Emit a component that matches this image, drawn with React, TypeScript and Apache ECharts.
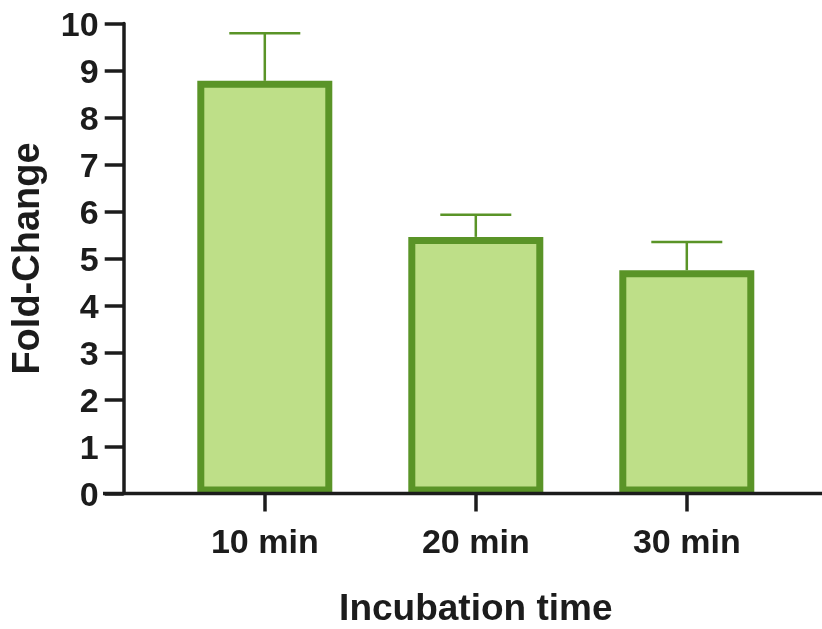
import React, { useEffect, useRef } from "react";
import * as echarts from "echarts";

const categories = ["10 min", "20 min", "30 min"];
const means = [8.78, 5.46, 4.75];
const errors = [1.01, 0.47, 0.6];
const yTicks = [0, 1, 2, 3, 4, 5, 6, 7, 8, 9, 10];

const FONT = '"Liberation Sans", Arial, Helvetica, sans-serif';
const INK = "#1c1c1c";
const GREEN = "#5a9427";
const FILL = "#bedf88";

export default function App() {
  const ref = useRef<HTMLDivElement>(null);
  useEffect(() => {
    if (!ref.current) return;
    const chart = echarts.init(ref.current, undefined, { renderer: "svg" });
    const errData = categories.map((c, i) => [i, means[i], means[i] + errors[i]]);
    chart.setOption({
      animation: false,
      grid: {
        left: 159.3,
        right: 29.7,
        top: 23.5,
        bottom: 135.5,
        containLabel: false,
        outerBoundsMode: "none",
      },
      xAxis: {
        type: "category",
        data: categories,
        axisLine: { show: false },
        axisTick: { show: true, alignWithLabel: true, length: 18, lineStyle: { color: INK, width: 3.5 } },
        axisLabel: { margin: 30, fontSize: 34, fontWeight: "bold", color: INK, fontFamily: FONT },
        name: "Incubation time",
        nameLocation: "middle",
        nameGap: 95,
        nameTextStyle: { fontSize: 37, fontWeight: "bold", color: INK, fontFamily: FONT },
        splitLine: { show: false },
      },
      yAxis: {
        type: "value",
        min: yTicks[0],
        max: yTicks[yTicks.length - 1],
        interval: 1,
        offset: 35.6,
        axisLine: { show: true, lineStyle: { color: INK, width: 3.5 } },
        axisTick: { show: true, length: 19, lineStyle: { color: INK, width: 3.5 } },
        axisLabel: { margin: 25, fontSize: 34, fontWeight: "bold", color: INK, fontFamily: FONT },
        splitLine: { show: false },
        name: "Fold-Change",
        nameLocation: "middle",
        nameRotate: 90,
        nameGap: 79,
        nameTextStyle: { fontSize: 38, fontWeight: "bold", color: INK, fontFamily: FONT },
      },
      graphic: [
        {
          type: "line",
          shape: { x1: 103, y1: 493.5, x2: 822, y2: 493.5 },
          style: { stroke: INK, lineWidth: 3.5 },
          z: 10,
        },
      ],
      series: [
        {
          type: "custom",
          z: 1,
          data: errData,
          renderItem: (params: any, api: any) => {
            const x = api.value(0);
            const base = api.coord([x, api.value(1)]);
            const top = api.coord([x, api.value(2)]);
            const half = 35.5;
            return {
              type: "group",
              children: [
                {
                  type: "line",
                  shape: { x1: base[0], y1: base[1], x2: top[0], y2: top[1] },
                  style: { stroke: GREEN, lineWidth: 2.5 },
                },
                {
                  type: "line",
                  shape: { x1: top[0] - half, y1: top[1], x2: top[0] + half, y2: top[1] },
                  style: { stroke: GREEN, lineWidth: 2.5 },
                },
              ],
            };
          },
        },
        {
          type: "bar",
          z: 2,
          data: means,
          barWidth: 135,
          itemStyle: { color: FILL, borderColor: GREEN, borderWidth: 7 },
        },
      ],
    });
    return () => chart.dispose();
  }, []);
  return <div ref={ref} style={{ position: "fixed", left: 0, top: 0, width: 822, height: 629 }} />;
}
